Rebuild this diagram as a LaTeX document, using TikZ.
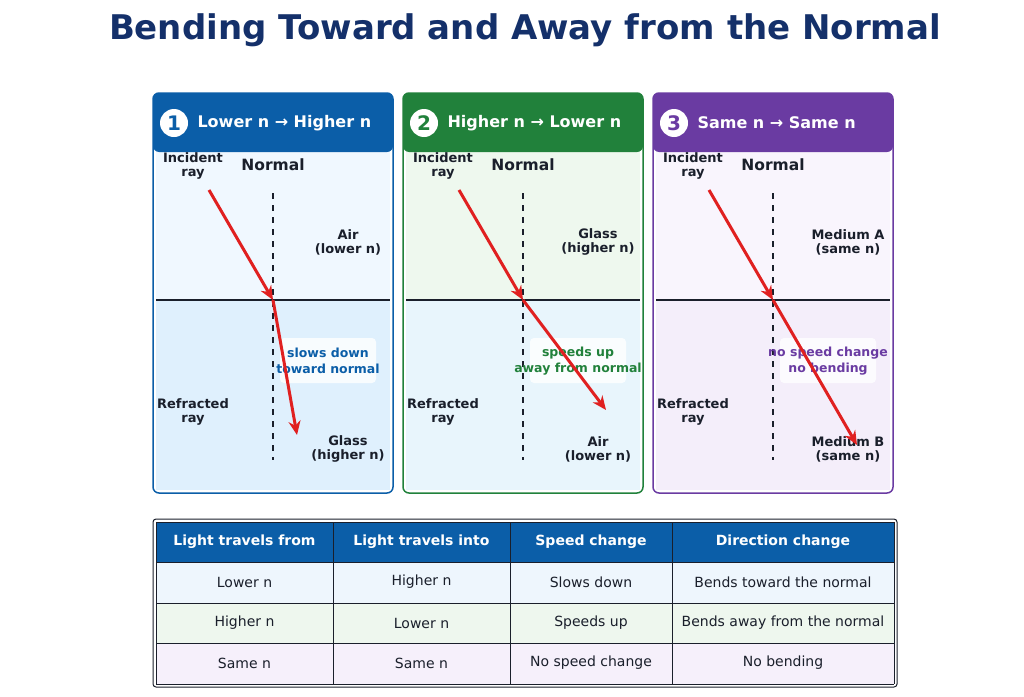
\documentclass[tikz,border=0pt]{standalone}
\usepackage{fontspec}
\setmainfont{DejaVu Sans}
\usetikzlibrary{arrows.meta,positioning}
\definecolor{pblue}{HTML}{0B5EA8}
\definecolor{pgreen}{HTML}{21813B}
\definecolor{ppurple}{HTML}{6A3BA2}
\definecolor{titleblue}{HTML}{14306A}
\definecolor{raycol}{HTML}{E02020}
\definecolor{inkcol}{HTML}{1A1F2B}
\definecolor{topA}{HTML}{F0F8FF}\definecolor{botA}{HTML}{DFF0FD}
\definecolor{topB}{HTML}{EEF8EE}\definecolor{botB}{HTML}{E8F5FC}
\definecolor{topC}{HTML}{F9F5FD}\definecolor{botC}{HTML}{F4EEFA}
\definecolor{rowA}{HTML}{EEF6FD}\definecolor{rowB}{HTML}{EEF7EE}\definecolor{rowC}{HTML}{F6F0FB}
\tikzset{
  lbl/.style={font=\bfseries\fontsize{13}{14}\selectfont, text=inkcol, align=center},
  ray/.style={raycol, line width=3pt, -{Stealth[length=14pt,width=12pt]}},
  normal/.style={inkcol, line width=1.2pt, dash pattern=on 6pt off 6pt},
  cell/.style={font=\fontsize{14}{16}\selectfont, text=inkcol},
  hcell/.style={font=\bfseries\fontsize{14}{16}\selectfont, text=white},
}
\begin{document}
\begin{tikzpicture}[x=1pt,y=-1pt]
\useasboundingbox (0,0) rectangle (1024,696);
\node (title) at (525,30) {\bfseries\fontsize{34}{38}\selectfont\color{titleblue}Bending Toward and Away from the Normal};

% three panels
\foreach \i/\col/\ta/\tb/\head/\up/\down/\note/\ex/\ey in {%
  0/pblue/topA/botA/{Lower n → Higher n}/{Air\\(lower n)}/{Glass\\(higher n)}/{slows down\\toward normal}/297/435,
  1/pgreen/topB/botB/{Higher n → Lower n}/{Glass\\(higher n)}/{Air\\(lower n)}/{speeds up\\away from normal}/606/410,
  2/ppurple/topC/botC/{Same n → Same n}/{Medium A\\(same n)}/{Medium B\\(same n)}/{no speed change\\no bending}/857/445}{
  \begin{scope}[xshift=\i*250]
    \fill[\ta] (156,150) rectangle (390,300);
    \fill[\tb] (156,300) rectangle (390,490);
    \fill[\col, rounded corners=6pt] (153,93) rectangle (393,152);
    \draw[\col, line width=1.5pt, rounded corners=6pt] (153,93) rectangle (393,493);
    \node[circle, fill=white, minimum size=28pt, inner sep=0pt, text=\col,
      font=\bfseries\fontsize{20}{20}\selectfont] (badge\i) at (174,123) {\number\numexpr\i+1\relax};
    \node[font=\bfseries\fontsize{16}{18}\selectfont, text=white, anchor=west] (head\i) at (194,123) {\head};
    \draw[inkcol, line width=1.5pt] (156,300) -- (390,300);
    \coordinate (ntop\i) at (273,193);
    \coordinate (nbot\i) at (273,460);
    \draw[normal] (ntop\i) -- (nbot\i);
    \fill[white, opacity=0.8, rounded corners=4pt] (280,338) rectangle (376,383);
    \node[font=\bfseries\fontsize{12.5}{16}\selectfont, text=\col, align=center] (note\i) at (328,361) {\note};
    \node[lbl] (inc\i) at (193,166) {Incident\\ray};
    \node[font=\bfseries\fontsize{15.5}{17}\selectfont, text=inkcol] (norm\i) at (273,165) {Normal};
    \node[lbl] (up\i) at (348,242) {\up};
    \node[lbl] (down\i) at (348,449) {\down};
    \node[lbl] (refr\i) at (193,412) {Refracted\\ray};
    \coordinate (src\i) at (209,190);
    \coordinate (hit\i) at (273,300);
    \draw[ray] (src\i) -- (hit\i);
  \end{scope}
  \coordinate (end\i) at (\ex,\ey);
  \draw[ray] (hit\i) -- (end\i);
}

% table
\draw[inkcol, line width=1pt, rounded corners=3pt] (153,519) rectangle (897,687);
\fill[pblue] (156,522) rectangle (894,562);
\fill[rowA] (156,562) rectangle (894,603);
\fill[rowB] (156,603) rectangle (894,643);
\fill[rowC] (156,643) rectangle (894,684);
\foreach \y in {522,562,603,643,684} \draw[inkcol, line width=0.8pt] (156,\y) -- (894,\y);
\foreach \x in {156,333,510,672,894} \draw[inkcol, line width=0.8pt] (\x,522) -- (\x,684);
\foreach \t [count=\c] in {Light travels from,Light travels into,Speed change,Direction change}
  \node[hcell] (h\c) at ({\c==1 ? 244.5 : (\c==2 ? 421.5 : (\c==3 ? 591 : 783))},542) {\t};
\foreach \a/\b/\s/\d/\y [count=\r] in {Lower n/Higher n/Slows down/Bends toward the normal/582,
  Higher n/Lower n/Speeds up/Bends away from the normal/623,
  Same n/Same n/No speed change/No bending/663}{
  \node[cell] (ra\r) at (244.5,\y) {\a};
  \node[cell] (rb\r) at (421.5,\y) {\b};
  \node[cell] (rc\r) at (591,\y) {\s};
  \node[cell] (rd\r) at (783,\y) {\d};
}
\end{tikzpicture}
\end{document}
